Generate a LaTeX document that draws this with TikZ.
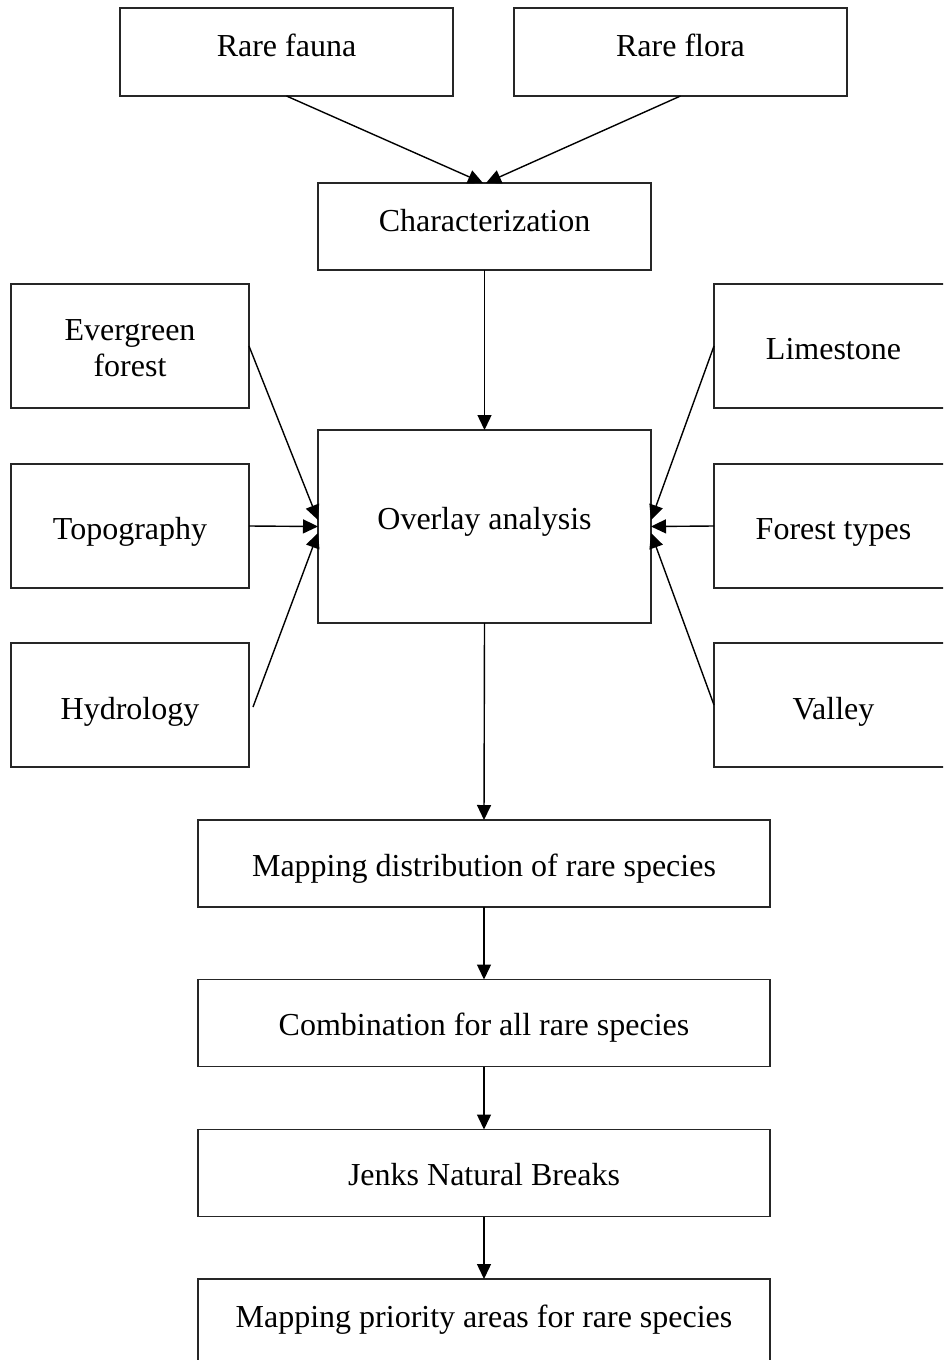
\documentclass[tikz,border=0pt]{standalone}
\usepackage{fontspec}
\setmainfont{Liberation Serif}
\usetikzlibrary{arrows.meta}
\begin{document}
\begin{tikzpicture}[x=1pt,y=-1pt,
  box/.style={draw=black!85, line width=1.4pt, inner sep=0pt, outer sep=0pt},
  wide/.style={box, minimum width=333, minimum height=88},
  side/.style={box, minimum width=238, minimum height=124},
  long/.style={box, minimum width=572, minimum height=87},
  lbl/.style={font=\fontsize{32}{36}\selectfont, inner sep=0pt, align=center},
  flow/.style={line width=1.4pt, -{Triangle[length=15pt,width=14pt]}}]
\clip (0,0) rectangle (943,1360);

% boxes
\node[wide] (fauna) at (286.5,52) {};
\node[wide] (flora) at (680.5,52) {};
\node[wide, minimum height=87] (charact) at (484.5,226.5) {};
\node[box, minimum width=333, minimum height=193] (ov) at (484.5,526.5) {};
\node[side] (evg) at (130,346) {};
\node[side] (tpg) at (130,526) {};
\node[side] (hyd) at (130,705) {};
\node[side] (lim) at (833,346) {};
\node[side] (fty) at (833,526) {};
\node[side] (val) at (833,705) {};
\node[long] (md) at (484,863.5) {};
\node[long] (comb) at (484,1023) {};
\node[long] (jnk) at (484,1173) {};
\node[long] (mpa) at (484,1322.5) {};

% labels, placed on their baselines
\node[lbl, anchor=base] (faunat) at (286.5,56) {Rare fauna};
\node[lbl, anchor=base] (florat) at (680.5,56) {Rare flora};
\node[lbl, anchor=base] (charactt) at (484.5,231) {Characterization};
\node[lbl, anchor=base] (ovt) at (484.5,529) {Overlay analysis};
\node[lbl] (evgt) at (130,348.5) {Evergreen\\forest};
\node[lbl, anchor=base] (tpgt) at (130,539) {Topography};
\node[lbl, anchor=base] (hydt) at (130,719) {Hydrology};
\node[lbl, anchor=base] (limt) at (833.5,359) {Limestone};
\node[lbl, anchor=base] (ftyt) at (833.5,539) {Forest types};
\node[lbl, anchor=base] (valt) at (833.5,719) {Valley};
\node[lbl, anchor=base] (mdt) at (484,876) {Mapping distribution of rare species};
\node[lbl, anchor=base] (combt) at (484,1035) {Combination for all rare species};
\node[lbl, anchor=base] (jnkt) at (484,1185) {Jenks Natural Breaks};
\node[lbl, anchor=base] (mpat) at (484,1327) {Mapping priority areas for rare species};

% connectors
\draw[flow] (fauna.south) -- ([xshift=-1.5pt]charact.north);
\draw[flow] (flora.south) -- ([xshift=1.5pt]charact.north);
\draw[flow] (charact.south) -- (ov.north);
\draw[flow] (evg.east) -- ([yshift=6.5pt]ov.west);
\draw[flow] (tpg.east) -- (ov.west);
\draw[flow] ([xshift=4pt,yshift=-2pt]hyd.east) -- ([yshift=-6.5pt]ov.west);
\draw[flow] (lim.west) -- ([yshift=6.5pt]ov.east);
\draw[flow] (fty.west) -- (ov.east);
\draw[flow] (val.west) -- ([yshift=-6.5pt]ov.east);
\draw[flow] (ov.south) -- (md.north);
\draw[flow] (md.south) -- (comb.north);
\draw[flow] (comb.south) -- (jnk.north);
\draw[flow] (jnk.south) -- (mpa.north);
\end{tikzpicture}
\end{document}
